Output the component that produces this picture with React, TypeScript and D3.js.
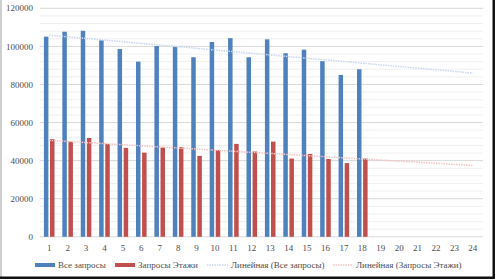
import React from "react";
import * as d3 from "d3";

const categories = Array.from({ length: 24 }, (_, i) => String(i + 1));
const allQueries = [105100, 107700, 108200, 103200, 98600, 92000, 100200, 99800, 94300, 102300, 104300, 94300, 103700, 96400, 98300, 92200, 85000, 88000];
const floorQueries = [51300, 50000, 51900, 48800, 46700, 44200, 46900, 47200, 42500, 45600, 48800, 44800, 50000, 41100, 43500, 40900, 38700, 41100];
const yTicks = [0, 20000, 40000, 60000, 80000, 100000, 120000];
const legendLabels = ["Все запросы", "Запросы Этажи", "Линейная (Все запросы)", "Линейная (Запросы Этажи)"];

const W = 495, H = 279;
const M = { left: 40, right: 482, top: 8.3, bottom: 236.8 };
const BLUE = "#4F81BD", RED = "#C0504D";
const TBLUE = "#c9d8f0", TRED = "#f2c4c4";
const FONT = "'Liberation Serif', 'Times New Roman', serif";
const TXT = "#4d4d4d";

function regression(vals: number[]) {
  const xs = vals.map((_, i) => i + 1);
  const mx = d3.mean(xs)!, my = d3.mean(vals)!;
  let num = 0, den = 0;
  xs.forEach((x, i) => { num += (x - mx) * (vals[i] - my); den += (x - mx) ** 2; });
  const b = num / den;
  const a = my - b * mx;
  return (x: number) => a + b * x;
}

export default function App() {
  const x = d3.scaleBand().domain(categories).range([M.left, M.right]).paddingInner(0).paddingOuter(0);
  const y = d3.scaleLinear().domain([0, 120000]).range([M.bottom, M.top]);
  const bw = 4.5, gap = 1.6;
  const minor = d3.range(0, 120001, 4000);
  const cx = (c: string) => x(c)! + x.bandwidth() / 2;
  const rA = regression(allQueries), rF = regression(floorQueries);
  const trend = (f: (v: number) => number) =>
    d3.line<number>().x((d) => cx(String(d))).y((d) => y(f(d)))([1, 24]) || "";
  const ly = 265;
  return (
    <svg width={W} height={H} style={{ position: "absolute", left: 0, top: 0, background: "#fff" }}>
      <rect x={0} y={0} width={W} height={H} fill="#fff" />
      {minor.map((v) => (
        <line key={"m" + v} x1={M.left} x2={M.right + 1} y1={y(v)} y2={y(v)} stroke={v % 20000 === 0 ? "#d9d9d9" : "#f0f0f0"} strokeWidth={1} />
      ))}
      {yTicks.map((v) => (
        <text key={"yt" + v} x={33} y={y(v)} dy="0.35em" textAnchor="end" fontFamily={FONT} fontSize={9} fill={TXT}>{v}</text>
      ))}
      {allQueries.map((v, i) => (
        <rect key={"a" + i} x={cx(categories[i]) - gap / 2 - bw} y={y(v)} width={bw} height={y(0) - y(v)} fill={BLUE} />
      ))}
      {floorQueries.map((v, i) => (
        <rect key={"f" + i} x={cx(categories[i]) + gap / 2} y={y(v)} width={bw} height={y(0) - y(v)} fill={RED} />
      ))}
      <path d={trend(rA)} stroke={TBLUE} strokeWidth={1.5} strokeDasharray="1.5 1" fill="none" />
      <path d={trend(rF)} stroke={TRED} strokeWidth={1.5} strokeDasharray="1.5 1" fill="none" />
      {categories.map((c) => (
        <text key={"xt" + c} x={cx(c)} y={248} dy="0.35em" textAnchor="middle" fontFamily={FONT} fontSize={9} fill={TXT}>{c}</text>
      ))}
      <rect x={35} y={ly - 2} width={20} height={4} fill={BLUE} />
      <text x={58} y={ly} dy="0.35em" fontFamily={FONT} fontSize={9} fill={TXT}>{legendLabels[0]}</text>
      <rect x={115} y={ly - 2} width={20} height={4} fill={RED} />
      <text x={138} y={ly} dy="0.35em" fontFamily={FONT} fontSize={9} fill={TXT}>{legendLabels[1]}</text>
      <line x1={207} x2={228} y1={ly} y2={ly} stroke={TBLUE} strokeWidth={1.5} strokeDasharray="1.5 1" />
      <text x={231} y={ly} dy="0.35em" fontFamily={FONT} fontSize={9} fill={TXT}>{legendLabels[2]}</text>
      <line x1={333} x2={353} y1={ly} y2={ly} stroke={TRED} strokeWidth={1.5} strokeDasharray="1.5 1" />
      <text x={356} y={ly} dy="0.35em" fontFamily={FONT} fontSize={9} fill={TXT}>{legendLabels[3]}</text>
      <line x1={1} x2={1} y1={0} y2={H} stroke="#bfbfbf" strokeWidth={1.5} />
      <rect x={492.5} y={0} width={2.5} height={H} fill="#111" />
      <rect x={0} y={276.5} width={W} height={2.5} fill="#111" />
    </svg>
  );
}
